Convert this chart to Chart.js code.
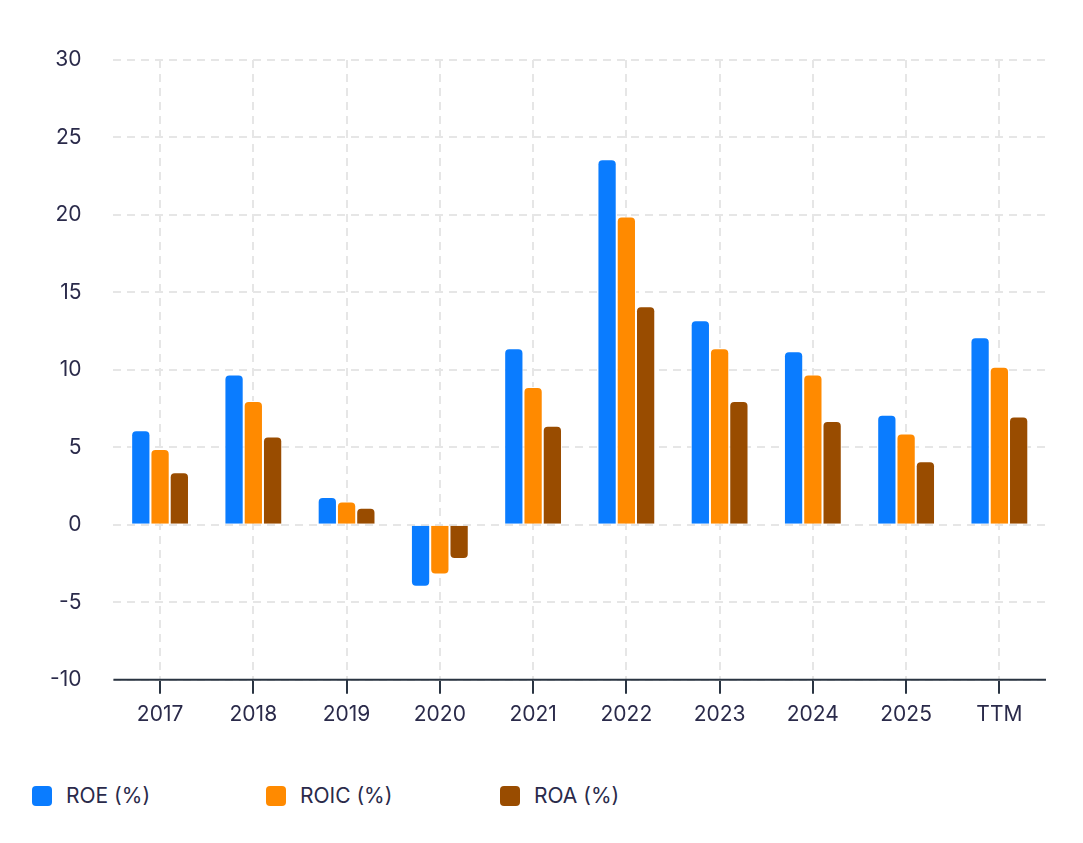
<!DOCTYPE html>
<html><head><meta charset="utf-8">
<script src="https://cdn.jsdelivr.net/npm/chart.js@4"></script>
<style>
body{margin:0;background:#fff;font-family:Inter,"Open Sans",sans-serif;}
#wrap{position:absolute;left:0;top:0;width:1083px;height:735px;}
#legend{position:absolute;top:783px;left:32px;display:flex;}
.item{display:flex;align-items:center;width:234px;font-size:21px;color:#2a2a4a;}
.box{width:20px;height:20px;border-radius:4px;margin-right:14px;}
</style></head><body>
<div id="wrap"><canvas id="c"></canvas></div>
<div id="legend"></div>
<script>
const categories = ['2017','2018','2019','2020','2021','2022','2023','2024','2025','TTM'];
const roe  = [6.1, 9.7, 1.8, -4.0, 11.4, 23.6, 13.2, 11.2, 7.1, 12.1];
const roic = [4.9, 8.0, 1.5, -3.2, 8.9, 19.9, 11.4, 9.7, 5.9, 10.2];
const roa  = [3.4, 5.7, 1.1, -2.2, 6.4, 14.1, 8.0, 6.7, 4.1, 7.0];
const seriesNames = ['ROE (%)', 'ROIC (%)', 'ROA (%)'];
const colors = ['#0a7cff', '#ff8a00', '#994c00'];

const datasets = [roe, roic, roa].map((d, i) => ({
  label: seriesNames[i], data: d, backgroundColor: colors[i],
  borderColor: '#fff', borderWidth: 1,
  borderRadius: 5, borderSkipped: 'start',
  categoryPercentage: 0.62, barPercentage: 1.0
}));

const textColor = '#2a2a4a';
const axisLine = {
  id: 'axisLine',
  afterDatasetsDraw(chart) {
    const { ctx, chartArea: a } = chart;
    ctx.save();
    ctx.strokeStyle = '#2a3442'; ctx.lineWidth = 2;
    ctx.beginPath(); ctx.moveTo(a.left, a.bottom); ctx.lineTo(a.right, a.bottom); ctx.stroke();
    ctx.restore();
  }
};
new Chart(document.getElementById('c'), {
  type: 'bar',
  data: { labels: categories, datasets },
  options: {
    responsive: true, maintainAspectRatio: false, animation: false,
    layout: { padding: { top: 60, right: 37, left: 18 } },
    plugins: { legend: { display: false }, tooltip: { enabled: false } },
    scales: {
      x: {
        grid: { offset: false, color: '#e6e6e6', lineWidth: 2, drawTicks: true, tickLength: 14,
                tickColor: '#2a3442', tickWidth: 2, tickBorderDash: [] },
        border: { display: false, dash: [8, 6] },
        ticks: { color: textColor, font: { size: 21, family: 'Inter' }, padding: 8 }
      },
      y: {
        min: -10, max: 30,
        grid: { color: '#e6e6e6', lineWidth: 2, drawTicks: false },
        border: { display: false, dash: [8, 6] },
        ticks: { stepSize: 5, color: textColor, font: { size: 21, family: 'Inter' }, padding: 32 }
      }
    }
  },
  plugins: [axisLine]
});

const lg = document.getElementById('legend');
seriesNames.forEach((n, i) => {
  const it = document.createElement('div'); it.className = 'item';
  it.innerHTML = '<span class="box" style="background:' + colors[i] + '"></span>' + n;
  lg.appendChild(it);
});
</script>
</body></html>
